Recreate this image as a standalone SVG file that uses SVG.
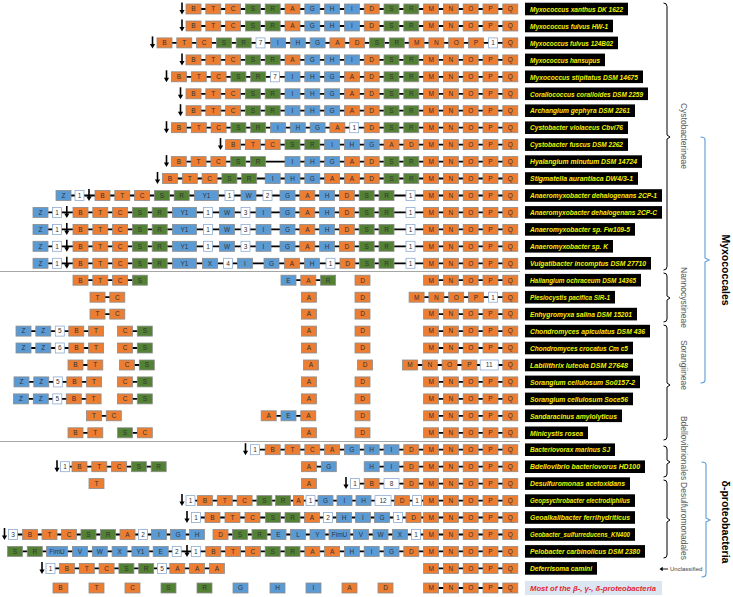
<svg xmlns="http://www.w3.org/2000/svg" xmlns:xlink="http://www.w3.org/1999/xlink" width="733" height="597" viewBox="0 0 733 597">
<style>
.o{fill:#ED7D31;stroke:#8c8c8c;stroke-width:.8}
.g{fill:#548235;stroke:#8c8c8c;stroke-width:.8}
.b{fill:#5B9BD5;stroke:#8c8c8c;stroke-width:.8}
.w{fill:#fff;stroke:#8eaad0;stroke-width:.8}
.t{font-family:"Liberation Sans",Arial,sans-serif;font-size:6.5px;text-anchor:middle;fill:#333}
.lb{fill:#000}
.lt{font-family:"Liberation Sans",Arial,sans-serif;font-size:7.6px;font-style:italic;font-weight:bold;fill:#f2f200}
.cn{fill:none;stroke:#000;stroke-width:1.8}
.br{fill:none;stroke:#000;stroke-width:1}
.bb{fill:none;stroke:#5b9bd5;stroke-width:1.1}
.cl{font-family:"Liberation Sans",Arial,sans-serif;font-size:8.5px;fill:#595959;text-anchor:middle}
.big{font-family:"Liberation Sans",Arial,sans-serif;font-size:10.5px;font-weight:bold;fill:#000;text-anchor:middle}
.sep{stroke:#a6a6a6;stroke-width:1.2}
</style>
<defs>
<g id="gB"><rect class="o" y="-5" width="15" height="10"/><text class="t" x="7.5" y="2.3">B</text></g>
<g id="gT"><rect class="o" y="-5" width="15" height="10"/><text class="t" x="7.5" y="2.3">T</text></g>
<g id="gC"><rect class="o" y="-5" width="15" height="10"/><text class="t" x="7.5" y="2.3">C</text></g>
<g id="gA"><rect class="o" y="-5" width="15" height="10"/><text class="t" x="7.5" y="2.3">A</text></g>
<g id="gAn"><rect class="o" y="-5" width="10" height="10"/><text class="t" x="5" y="2.3">A</text></g>
<g id="gD"><rect class="o" y="-5" width="15" height="10"/><text class="t" x="7.5" y="2.3">D</text></g>
<g id="gM"><rect class="o" y="-5" width="15" height="10"/><text class="t" x="7.5" y="2.3">M</text></g>
<g id="gN"><rect class="o" y="-5" width="15" height="10"/><text class="t" x="7.5" y="2.3">N</text></g>
<g id="gO"><rect class="o" y="-5" width="15" height="10"/><text class="t" x="7.5" y="2.3">O</text></g>
<g id="gP"><rect class="o" y="-5" width="15" height="10"/><text class="t" x="7.5" y="2.3">P</text></g>
<g id="gQ"><rect class="o" y="-5" width="15" height="10"/><text class="t" x="7.5" y="2.3">Q</text></g>
<g id="gS"><rect class="g" y="-5" width="15" height="10"/><text class="t" x="7.5" y="2.3">S</text></g>
<g id="gR"><rect class="g" y="-5" width="15" height="10"/><text class="t" x="7.5" y="2.3">R</text></g>
<g id="gG"><rect class="b" y="-5" width="15" height="10"/><text class="t" x="7.5" y="2.3">G</text></g>
<g id="gH"><rect class="b" y="-5" width="15" height="10"/><text class="t" x="7.5" y="2.3">H</text></g>
<g id="gI"><rect class="b" y="-5" width="15" height="10"/><text class="t" x="7.5" y="2.3">I</text></g>
<g id="gE"><rect class="b" y="-5" width="15" height="10"/><text class="t" x="7.5" y="2.3">E</text></g>
<g id="gZ"><rect class="b" y="-5" width="15" height="10"/><text class="t" x="7.5" y="2.3">Z</text></g>
<g id="gW"><rect class="b" y="-5" width="15" height="10"/><text class="t" x="7.5" y="2.3">W</text></g>
<g id="gX"><rect class="b" y="-5" width="15" height="10"/><text class="t" x="7.5" y="2.3">X</text></g>
<g id="gV"><rect class="b" y="-5" width="15" height="10"/><text class="t" x="7.5" y="2.3">V</text></g>
<g id="gL"><rect class="b" y="-5" width="15" height="10"/><text class="t" x="7.5" y="2.3">L</text></g>
<g id="gY"><rect class="b" y="-5" width="15" height="10"/><text class="t" x="7.5" y="2.3">Y</text></g>
<g id="gY1"><rect class="b" y="-5" width="24" height="10"/><text class="t" x="12" y="2.3">Y1</text></g>
<g id="gY1s"><rect class="b" y="-5" width="17" height="10"/><text class="t" x="8.5" y="2.3">Y1</text></g>
<g id="gFimU"><rect class="b" y="-5" width="21" height="10"/><text class="t" x="10.5" y="2.3">FimU</text></g>
<g id="n1"><rect class="w" y="-5" width="9" height="10"/><text class="t" x="4.5" y="2.3">1</text></g>
<g id="n2"><rect class="w" y="-5" width="9" height="10"/><text class="t" x="4.5" y="2.3">2</text></g>
<g id="n3"><rect class="w" y="-5" width="9" height="10"/><text class="t" x="4.5" y="2.3">3</text></g>
<g id="n4"><rect class="w" y="-5" width="9" height="10"/><text class="t" x="4.5" y="2.3">4</text></g>
<g id="n5"><rect class="w" y="-5" width="9" height="10"/><text class="t" x="4.5" y="2.3">5</text></g>
<g id="n6"><rect class="w" y="-5" width="9" height="10"/><text class="t" x="4.5" y="2.3">6</text></g>
<g id="n7"><rect class="w" y="-5" width="9" height="10"/><text class="t" x="4.5" y="2.3">7</text></g>
<g id="n8"><rect class="w" y="-5" width="15" height="10"/><text class="t" x="7.5" y="2.3">8</text></g>
<g id="n11"><rect class="w" y="-5" width="18" height="10"/><text class="t" x="9" y="2.3">11</text></g>
<g id="n12"><rect class="w" y="-5" width="16" height="10"/><text class="t" x="8" y="2.3">12</text></g>
<g id="dn"><path d="M0,-6.5V2" stroke="#000" stroke-width="1.6"/><path d="M-2.6,1L0,5.5L2.6,1Z" fill="#000"/></g>
<g id="mnopq"><use href="#gM" x="423.6"/><use href="#gN" x="443.4"/><use href="#gO" x="463.2"/><use href="#gP" x="483"/><use href="#gQ" x="502.8"/></g>
</defs>
<rect width="733" height="597" fill="#fff"/>
<g id="separators">
<line class="sep" x1="0" y1="271.5" x2="520" y2="271.5"/>
<line class="sep" x1="0" y1="441.5" x2="520" y2="441.5"/>
</g>
<g id="connectors">
<path class="cn" d="M193.5,9H510.3M193.5,26H510.3M164.5,42.9H510.3M193.5,59.9H510.3M179,76.8H510.3M193.5,93.8H510.3M193.5,110.7H510.3M179,127.7H510.3M233.1,144.6H510.3M178.8,161.6H510.3M170,178.5H510.3M63.5,195.5H510.3M40.5,212.4H510.3M40.5,229.4H510.3M40.5,246.3H510.3M40.5,263.3H510.3"/>
<path class="cn" d="M80.5,280.2H139.9M288.5,280.2H328.1M431.1,280.2H510.3M97.5,297.2H117.3M416.6,297.2H510.3M97.5,314.1H117.3M431.1,314.1H510.3M23.5,331.1H96.1M125,331.1H144.8M431.1,331.1H510.3M23.5,348H96.1M125,348H144.8M431.1,348H510.3M75.5,365H95.3M127,365H146.8M410,365H510.3M21.5,381.9H94.1M125,381.9H144.8M431.1,381.9H510.3M21,398.9H93.6M125,398.9H144.8M431.1,398.9H510.3M94,415.8H113.8M268.7,415.8H308.3M431.1,415.8H510.3M75.5,432.8H95.3M125,432.8H144.8M431.1,432.8H510.3"/>
<path class="cn" d="M255,449.7H510.3M65,466.7H158.7M309,466.7H328.8M371.7,466.7H510.3M355,483.6H510.3M190.5,500.6H510.3M196,517.5H510.3M13,534.5H197M220.5,534.5H510.3M15,551.4H510.3M50.5,568.4H216.9M431.1,568.4H510.3M431.1,588H510.3"/>
</g>
<g id="r1" transform="translate(0,9)"><use href="#dn" x="182"/><use href="#gB" x="186"/><use href="#gT" x="205.8"/><use href="#gC" x="225.6"/><use href="#gS" x="245.4"/><use href="#gR" x="265.2"/><use href="#gA" x="285"/><use href="#gG" x="304.8"/><use href="#gH" x="324.6"/><use href="#gI" x="344.4"/><use href="#gD" x="364.2"/><use href="#gS" x="384"/><use href="#gR" x="403.8"/><use href="#mnopq"/><rect class="lb" x="525" y="-6.3" width="103" height="12.6"/><text class="lt" x="530" y="2.7" textLength="93" lengthAdjust="spacingAndGlyphs">Myxococcus xanthus DK 1622</text></g>
<g id="r2" transform="translate(0,26)"><use href="#dn" x="182"/><use href="#gB" x="186"/><use href="#gT" x="205.8"/><use href="#gC" x="225.6"/><use href="#gS" x="245.4"/><use href="#gR" x="265.2"/><use href="#gA" x="285"/><use href="#gG" x="304.8"/><use href="#gH" x="324.6"/><use href="#gI" x="344.4"/><use href="#gD" x="364.2"/><use href="#gS" x="384"/><use href="#gR" x="403.8"/><use href="#mnopq"/><rect class="lb" x="525" y="-6.3" width="88" height="12.6"/><text class="lt" x="530" y="2.7" textLength="78" lengthAdjust="spacingAndGlyphs">Myxococcus fulvus HW-1</text></g>
<g id="r3" transform="translate(0,42.9)"><use href="#dn" x="152.5"/><use href="#gB" x="157"/><use href="#gT" x="176.8"/><use href="#gC" x="196.6"/><use href="#gS" x="216.4"/><use href="#gR" x="236.2"/><use href="#n7" x="256"/><use href="#gI" x="270.5"/><use href="#gH" x="290.3"/><use href="#gG" x="310.1"/><use href="#gA" x="329.9"/><use href="#gD" x="349.7"/><use href="#gS" x="369.5"/><use href="#gR" x="389.3"/><use href="#gM" x="409.1"/><use href="#gN" x="428.9"/><use href="#gO" x="448.7"/><use href="#gP" x="468.5"/><use href="#n1" x="488.6"/><use href="#gQ" x="502.8"/><rect class="lb" x="525" y="-6.3" width="93" height="12.6"/><text class="lt" x="530" y="2.7" textLength="83" lengthAdjust="spacingAndGlyphs">Myxococcus fulvus 124B02</text></g>
<g id="r4" transform="translate(0,59.9)"><use href="#dn" x="182"/><use href="#gB" x="186"/><use href="#gT" x="205.8"/><use href="#gC" x="225.6"/><use href="#gS" x="245.4"/><use href="#gR" x="265.2"/><use href="#gA" x="285"/><use href="#gG" x="304.8"/><use href="#gH" x="324.6"/><use href="#gI" x="344.4"/><use href="#gD" x="364.2"/><use href="#gS" x="384"/><use href="#gR" x="403.8"/><use href="#mnopq"/><rect class="lb" x="525" y="-6.3" width="80" height="12.6"/><text class="lt" x="530" y="2.7" textLength="70" lengthAdjust="spacingAndGlyphs">Myxococcus hansupus</text></g>
<g id="r5" transform="translate(0,76.8)"><use href="#dn" x="166.5"/><use href="#gB" x="171.5"/><use href="#gT" x="191.3"/><use href="#gC" x="211.1"/><use href="#gS" x="230.9"/><use href="#gR" x="250.7"/><use href="#n7" x="270.5"/><use href="#gI" x="285"/><use href="#gH" x="304.8"/><use href="#gG" x="324.6"/><use href="#gA" x="344.4"/><use href="#gD" x="364.2"/><use href="#gS" x="384"/><use href="#gR" x="403.8"/><use href="#mnopq"/><rect class="lb" x="525" y="-6.3" width="118" height="12.6"/><text class="lt" x="530" y="2.7" textLength="108" lengthAdjust="spacingAndGlyphs">Myxococcus stipitatus DSM 14675</text></g>
<g id="r6" transform="translate(0,93.8)"><use href="#dn" x="180.5"/><use href="#gB" x="186"/><use href="#gT" x="205.8"/><use href="#gC" x="225.6"/><use href="#gS" x="245.4"/><use href="#gR" x="265.2"/><use href="#gI" x="285"/><use href="#gH" x="304.8"/><use href="#gG" x="324.6"/><use href="#gA" x="344.4"/><use href="#gD" x="364.2"/><use href="#gS" x="384"/><use href="#gR" x="403.8"/><use href="#mnopq"/><rect class="lb" x="525" y="-6.3" width="123" height="12.6"/><text class="lt" x="530" y="2.7" textLength="113" lengthAdjust="spacingAndGlyphs">Corallococcus coralloides DSM 2259</text></g>
<g id="r7" transform="translate(0,110.7)"><use href="#dn" x="180.5"/><use href="#gB" x="186"/><use href="#gT" x="205.8"/><use href="#gC" x="225.6"/><use href="#gS" x="245.4"/><use href="#gR" x="265.2"/><use href="#gI" x="285"/><use href="#gH" x="304.8"/><use href="#gG" x="324.6"/><use href="#gA" x="344.4"/><use href="#gD" x="364.2"/><use href="#gS" x="384"/><use href="#gR" x="403.8"/><use href="#mnopq"/><rect class="lb" x="525" y="-6.3" width="110" height="12.6"/><text class="lt" x="530" y="2.7" textLength="100" lengthAdjust="spacingAndGlyphs">Archangium gephyra DSM 2261</text></g>
<g id="r8" transform="translate(0,127.7)"><use href="#dn" x="166.5"/><use href="#gB" x="171.5"/><use href="#gT" x="191.3"/><use href="#gC" x="211.1"/><use href="#gS" x="230.9"/><use href="#gR" x="250.7"/><use href="#gI" x="270.5"/><use href="#gH" x="290.3"/><use href="#gG" x="310.1"/><use href="#gA" x="329.9"/><use href="#n1" x="349.7"/><use href="#gD" x="364.2"/><use href="#gS" x="384"/><use href="#gR" x="403.8"/><use href="#mnopq"/><rect class="lb" x="525" y="-6.3" width="103" height="12.6"/><text class="lt" x="530" y="2.7" textLength="93" lengthAdjust="spacingAndGlyphs">Cystobacter violaceus Cbvi76</text></g>
<g id="r9" transform="translate(0,144.6)"><use href="#dn" x="220.5"/><use href="#gB" x="225.6"/><use href="#gT" x="245.4"/><use href="#gC" x="265.2"/><use href="#gS" x="285"/><use href="#gR" x="304.8"/><use href="#gI" x="324.6"/><use href="#gH" x="344.4"/><use href="#gG" x="364.2"/><use href="#gA" x="384"/><use href="#gD" x="403.8"/><use href="#mnopq"/><rect class="lb" x="525" y="-6.3" width="103" height="12.6"/><text class="lt" x="530" y="2.7" textLength="93" lengthAdjust="spacingAndGlyphs">Cystobacter fuscus DSM 2262</text></g>
<g id="r10" transform="translate(0,161.6)"><use href="#dn" x="166.5"/><use href="#gB" x="171.3"/><use href="#gT" x="191.1"/><use href="#gC" x="210.9"/><use href="#gS" x="230.7"/><use href="#gR" x="250.5"/><use href="#gI" x="285"/><use href="#gH" x="304.8"/><use href="#gG" x="324.6"/><use href="#gA" x="344.4"/><use href="#gD" x="364.2"/><use href="#gS" x="384"/><use href="#gR" x="403.8"/><use href="#mnopq"/><rect class="lb" x="525" y="-6.3" width="117" height="12.6"/><text class="lt" x="530" y="2.7" textLength="107" lengthAdjust="spacingAndGlyphs">Hyalangium minutum DSM 14724</text></g>
<g id="r11" transform="translate(0,178.5)"><use href="#dn" x="157.5"/><use href="#gB" x="162.5"/><use href="#gT" x="182.3"/><use href="#gC" x="202.1"/><use href="#gS" x="221.9"/><use href="#gR" x="241.7"/><use href="#gI" x="265.2"/><use href="#gH" x="285"/><use href="#gG" x="304.8"/><use href="#gA" x="324.6"/><use href="#gA" x="344.4"/><use href="#gD" x="364.2"/><use href="#gS" x="384"/><use href="#gR" x="403.8"/><use href="#mnopq"/><rect class="lb" x="525" y="-6.3" width="113" height="12.6"/><text class="lt" x="530" y="2.7" textLength="103" lengthAdjust="spacingAndGlyphs">Stigmatella aurantiaca DW4/3-1</text></g>
<g id="r12" transform="translate(0,195.5)"><use href="#gZ" x="56"/><use href="#n1" x="75"/><use href="#dn" x="89"/><use href="#gB" x="95"/><use href="#gT" x="114.8"/><use href="#gC" x="134.6"/><use href="#gS" x="154.4"/><use href="#gR" x="174.2"/><use href="#gY1" x="194.5"/><use href="#n1" x="225"/><use href="#gW" x="241"/><use href="#n2" x="263"/><use href="#gG" x="280"/><use href="#gA" x="299.8"/><use href="#gH" x="319.6"/><use href="#gD" x="339.4"/><use href="#gS" x="359.2"/><use href="#gR" x="379"/><use href="#n1" x="406"/><use href="#mnopq"/><rect class="lb" x="525" y="-6.3" width="137" height="12.6"/><text class="lt" x="530" y="2.7" textLength="127" lengthAdjust="spacingAndGlyphs">Anaeromyxobacter dehalogenans 2CP-1</text></g>
<g id="r13" transform="translate(0,212.4)"><use href="#gZ" x="33"/><use href="#n1" x="52.5"/><use href="#dn" x="66.8"/><use href="#gB" x="73"/><use href="#gT" x="92.8"/><use href="#gC" x="112.6"/><use href="#gS" x="132.4"/><use href="#gR" x="152.2"/><use href="#gY1" x="172.5"/><use href="#n1" x="203.5"/><use href="#gW" x="219.5"/><use href="#n3" x="241"/><use href="#gI" x="256"/><use href="#gG" x="280"/><use href="#gA" x="299.8"/><use href="#gH" x="319.6"/><use href="#gD" x="339.4"/><use href="#gS" x="359.2"/><use href="#gR" x="379"/><use href="#n1" x="406"/><use href="#mnopq"/><rect class="lb" x="525" y="-6.3" width="137" height="12.6"/><text class="lt" x="530" y="2.7" textLength="127" lengthAdjust="spacingAndGlyphs">Anaeromyxobacter dehalogenans 2CP-C</text></g>
<g id="r14" transform="translate(0,229.4)"><use href="#gZ" x="33"/><use href="#n1" x="52.5"/><use href="#dn" x="66.8"/><use href="#gB" x="73"/><use href="#gT" x="92.8"/><use href="#gC" x="112.6"/><use href="#gS" x="132.4"/><use href="#gR" x="152.2"/><use href="#gY1" x="172.5"/><use href="#n1" x="203.5"/><use href="#gW" x="219.5"/><use href="#n3" x="241"/><use href="#gI" x="256"/><use href="#gG" x="280"/><use href="#gA" x="299.8"/><use href="#gH" x="319.6"/><use href="#gD" x="339.4"/><use href="#gS" x="359.2"/><use href="#gR" x="379"/><use href="#n1" x="406"/><use href="#mnopq"/><rect class="lb" x="525" y="-6.3" width="110" height="12.6"/><text class="lt" x="530" y="2.7" textLength="100" lengthAdjust="spacingAndGlyphs">Anaeromyxobacter sp. Fw109-5</text></g>
<g id="r15" transform="translate(0,246.3)"><use href="#gZ" x="33"/><use href="#n1" x="52.5"/><use href="#dn" x="66.8"/><use href="#gB" x="73"/><use href="#gT" x="92.8"/><use href="#gC" x="112.6"/><use href="#gS" x="132.4"/><use href="#gR" x="152.2"/><use href="#gY1" x="172.5"/><use href="#n1" x="203.5"/><use href="#gW" x="219.5"/><use href="#n3" x="241"/><use href="#gI" x="256"/><use href="#gG" x="280"/><use href="#gA" x="299.8"/><use href="#gH" x="319.6"/><use href="#gD" x="339.4"/><use href="#gS" x="359.2"/><use href="#gR" x="379"/><use href="#n1" x="406"/><use href="#mnopq"/><rect class="lb" x="525" y="-6.3" width="88" height="12.6"/><text class="lt" x="530" y="2.7" textLength="78" lengthAdjust="spacingAndGlyphs">Anaeromyxobacter sp. K</text></g>
<g id="r16" transform="translate(0,263.3)"><use href="#gZ" x="33"/><use href="#n1" x="52.5"/><use href="#dn" x="66.8"/><use href="#gB" x="73"/><use href="#gT" x="92.8"/><use href="#gC" x="112.6"/><use href="#gS" x="132.4"/><use href="#gR" x="152.2"/><use href="#gY1" x="172.5"/><use href="#gX" x="202.5"/><use href="#n4" x="223.5"/><use href="#gI" x="237.5"/><use href="#gG" x="264"/><use href="#gA" x="284.5"/><use href="#gH" x="304.5"/><use href="#n1" x="326"/><use href="#gD" x="340"/><use href="#gS" x="359.5"/><use href="#gR" x="379"/><use href="#n1" x="406"/><use href="#mnopq"/><rect class="lb" x="525" y="-6.3" width="126" height="12.6"/><text class="lt" x="530" y="2.7" textLength="116" lengthAdjust="spacingAndGlyphs">Vulgatibacter incomptus DSM 27710</text></g>
<g id="r17" transform="translate(0,280.2)"><use href="#gB" x="73"/><use href="#gT" x="92.8"/><use href="#gC" x="112.6"/><use href="#gS" x="132.4"/><use href="#gE" x="281"/><use href="#gA" x="300.8"/><use href="#gR" x="320.6"/><use href="#gD" x="355"/><use href="#mnopq"/><rect class="lb" x="525" y="-6.3" width="116" height="12.6"/><text class="lt" x="530" y="2.7" textLength="106" lengthAdjust="spacingAndGlyphs">Haliangium ochraceum DSM 14365</text></g>
<g id="r18" transform="translate(0,297.2)"><use href="#gT" x="90"/><use href="#gC" x="109.8"/><use href="#gA" x="301.5"/><use href="#gD" x="355"/><use href="#gM" x="409.1"/><use href="#gN" x="428.9"/><use href="#gO" x="448.7"/><use href="#gP" x="468.5"/><use href="#n1" x="488.6"/><use href="#gQ" x="502.8"/><rect class="lb" x="525" y="-6.3" width="90" height="12.6"/><text class="lt" x="530" y="2.7" textLength="80" lengthAdjust="spacingAndGlyphs">Plesiocystis pacifica SIR-1</text></g>
<g id="r19" transform="translate(0,314.1)"><use href="#gT" x="90"/><use href="#gC" x="109.8"/><use href="#gA" x="301.5"/><use href="#gD" x="355"/><use href="#mnopq"/><rect class="lb" x="525" y="-6.3" width="112" height="12.6"/><text class="lt" x="530" y="2.7" textLength="102" lengthAdjust="spacingAndGlyphs">Enhygromyxa salina DSM 15201</text></g>
<g id="r20" transform="translate(0,331.1)"><use href="#gZ" x="16"/><use href="#gZ" x="35.8"/><use href="#n5" x="55.3"/><use href="#gB" x="68.8"/><use href="#gT" x="88.6"/><use href="#gC" x="117.5"/><use href="#gS" x="137.3"/><use href="#gA" x="301.5"/><use href="#gD" x="355"/><use href="#mnopq"/><rect class="lb" x="525" y="-6.3" width="125" height="12.6"/><text class="lt" x="530" y="2.7" textLength="115" lengthAdjust="spacingAndGlyphs">Chondromyces apiculatus DSM 436</text></g>
<g id="r21" transform="translate(0,348)"><use href="#gZ" x="16"/><use href="#gZ" x="35.8"/><use href="#n6" x="55.3"/><use href="#gB" x="68.8"/><use href="#gT" x="88.6"/><use href="#gC" x="117.5"/><use href="#gS" x="137.3"/><use href="#gA" x="301.5"/><use href="#gD" x="355"/><use href="#mnopq"/><rect class="lb" x="525" y="-6.3" width="108" height="12.6"/><text class="lt" x="530" y="2.7" textLength="98" lengthAdjust="spacingAndGlyphs">Chondromyces crocatus Cm c5</text></g>
<g id="r22" transform="translate(0,365)"><use href="#gB" x="68"/><use href="#gT" x="87.8"/><use href="#gC" x="119.5"/><use href="#gS" x="139.3"/><use href="#gA" x="303.5"/><use href="#gD" x="357.5"/><use href="#gM" x="402.5"/><use href="#gN" x="422.3"/><use href="#gO" x="442.1"/><use href="#gP" x="461.9"/><use href="#n11" x="480.2"/><use href="#gQ" x="502.8"/><rect class="lb" x="525" y="-6.3" width="108" height="12.6"/><text class="lt" x="530" y="2.7" textLength="98" lengthAdjust="spacingAndGlyphs">Labilithrix luteola DSM 27648</text></g>
<g id="r23" transform="translate(0,381.9)"><use href="#gZ" x="14"/><use href="#gZ" x="33.8"/><use href="#n5" x="53.3"/><use href="#gB" x="66.8"/><use href="#gT" x="86.6"/><use href="#gC" x="117.5"/><use href="#gS" x="137.3"/><use href="#gA" x="301.5"/><use href="#gD" x="355"/><use href="#mnopq"/><rect class="lb" x="525" y="-6.3" width="115" height="12.6"/><text class="lt" x="530" y="2.7" textLength="105" lengthAdjust="spacingAndGlyphs">Sorangium cellulosum So0157-2</text></g>
<g id="r24" transform="translate(0,398.9)"><use href="#gZ" x="13.5"/><use href="#gZ" x="33.3"/><use href="#n5" x="52.8"/><use href="#gB" x="66.3"/><use href="#gT" x="86.1"/><use href="#gC" x="117.5"/><use href="#gS" x="137.3"/><use href="#gA" x="301.5"/><use href="#gD" x="355"/><use href="#mnopq"/><rect class="lb" x="525" y="-6.3" width="108" height="12.6"/><text class="lt" x="530" y="2.7" textLength="98" lengthAdjust="spacingAndGlyphs">Sorangium cellulosum Soce56</text></g>
<g id="r25" transform="translate(0,415.8)"><use href="#gT" x="86.5"/><use href="#gC" x="106.3"/><use href="#gA" x="261.2"/><use href="#gE" x="281"/><use href="#gA" x="300.8"/><use href="#gD" x="355"/><use href="#mnopq"/><rect class="lb" x="525" y="-6.3" width="97" height="12.6"/><text class="lt" x="530" y="2.7" textLength="87" lengthAdjust="spacingAndGlyphs">Sandaracinus amylolyticus</text></g>
<g id="r26" transform="translate(0,432.8)"><use href="#gB" x="68"/><use href="#gT" x="87.8"/><use href="#gS" x="117.5"/><use href="#gC" x="137.3"/><use href="#gA" x="301.5"/><use href="#gD" x="355"/><use href="#mnopq"/><rect class="lb" x="525" y="-6.3" width="63" height="12.6"/><text class="lt" x="530" y="2.7" textLength="53" lengthAdjust="spacingAndGlyphs">Minicystis rosea</text></g>
<g id="r27" transform="translate(0,449.7)"><use href="#dn" x="245.5"/><use href="#n1" x="250.5"/><use href="#gB" x="265.2"/><use href="#gT" x="285"/><use href="#gC" x="304.8"/><use href="#gA" x="324.6"/><use href="#gG" x="344.4"/><use href="#gH" x="364.2"/><use href="#gI" x="384"/><use href="#gD" x="403.8"/><use href="#mnopq"/><rect class="lb" x="525" y="-6.3" width="90" height="12.6"/><text class="lt" x="530" y="2.7" textLength="80" lengthAdjust="spacingAndGlyphs">Bacteriovorax marinus SJ</text></g>
<g id="r28" transform="translate(0,466.7)"><use href="#dn" x="57"/><use href="#n1" x="60.5"/><use href="#gB" x="72"/><use href="#gT" x="91.8"/><use href="#gC" x="111.6"/><use href="#gS" x="131.4"/><use href="#gR" x="151.2"/><use href="#gA" x="301.5"/><use href="#gG" x="321.3"/><use href="#gH" x="364.2"/><use href="#gI" x="384"/><use href="#gD" x="403.8"/><use href="#mnopq"/><rect class="lb" x="525" y="-6.3" width="120" height="12.6"/><text class="lt" x="530" y="2.7" textLength="110" lengthAdjust="spacingAndGlyphs">Bdellovibrio bacteriovorus HD100</text></g>
<g id="r29" transform="translate(0,483.6)"><use href="#gT" x="89"/><use href="#gA" x="301.5"/><use href="#dn" x="346"/><use href="#n1" x="350.5"/><use href="#gB" x="364.2"/><use href="#n8" x="384"/><use href="#gD" x="403.8"/><use href="#mnopq"/><rect class="lb" x="525" y="-6.3" width="105" height="12.6"/><text class="lt" x="530" y="2.7" textLength="95" lengthAdjust="spacingAndGlyphs">Desulfuromonas acetoxidans</text></g>
<g id="r30" transform="translate(0,500.6)"><use href="#dn" x="182"/><use href="#n1" x="186"/><use href="#gB" x="197.5"/><use href="#gT" x="217.3"/><use href="#gC" x="237.1"/><use href="#gS" x="256.9"/><use href="#gR" x="275.5"/><use href="#gAn" x="293.5"/><use href="#n1" x="306"/><use href="#gG" x="318"/><use href="#gI" x="337"/><use href="#gH" x="356"/><use href="#n12" x="375"/><use href="#gD" x="394.5"/><use href="#n1" x="412.5"/><use href="#mnopq"/><rect class="lb" x="525" y="-6.3" width="110" height="12.6"/><text class="lt" x="530" y="2.7" textLength="100" lengthAdjust="spacingAndGlyphs">Geopsychrobacter electrodiphilus</text></g>
<g id="r31" transform="translate(0,517.5)"><use href="#dn" x="187"/><use href="#n1" x="191.5"/><use href="#gB" x="205"/><use href="#gT" x="225"/><use href="#gC" x="245"/><use href="#gS" x="265.5"/><use href="#gR" x="285"/><use href="#gA" x="304.5"/><use href="#n2" x="323.5"/><use href="#gH" x="336.5"/><use href="#gI" x="355.5"/><use href="#gG" x="374.5"/><use href="#n1" x="393.5"/><use href="#gD" x="406"/><use href="#mnopq"/><rect class="lb" x="525" y="-6.3" width="110" height="12.6"/><text class="lt" x="530" y="2.7" textLength="100" lengthAdjust="spacingAndGlyphs">Geoalkalibacter ferrihydriticus</text></g>
<g id="r32" transform="translate(0,534.5)"><use href="#dn" x="4.5"/><use href="#n3" x="8.5"/><use href="#gB" x="22.5"/><use href="#gT" x="42"/><use href="#gC" x="61.5"/><use href="#gS" x="81"/><use href="#gR" x="100.5"/><use href="#gA" x="120"/><use href="#n2" x="138.5"/><use href="#gI" x="151.5"/><use href="#gG" x="170.5"/><use href="#gH" x="189.5"/><use href="#gD" x="213"/><use href="#gS" x="232.5"/><use href="#gR" x="252"/><use href="#gE" x="271"/><use href="#gL" x="290.5"/><use href="#gY" x="310"/><use href="#gFimU" x="329"/><use href="#gV" x="353.5"/><use href="#gW" x="373"/><use href="#gX" x="392.5"/><use href="#n1" x="411.5"/><use href="#mnopq"/><rect class="lb" x="525" y="-6.3" width="110" height="12.6"/><text class="lt" x="530" y="2.7" textLength="100" lengthAdjust="spacingAndGlyphs">Geobacter_sulfurreducens_KN400</text></g>
<g id="r33" transform="translate(0,551.4)"><use href="#gS" x="7.5"/><use href="#gR" x="27.3"/><use href="#gFimU" x="46.5"/><use href="#gV" x="72.5"/><use href="#gW" x="92.3"/><use href="#gX" x="112.1"/><use href="#gY1s" x="131.9"/><use href="#gE" x="153.2"/><use href="#n2" x="172.2"/><use href="#dn" x="187"/><use href="#n1" x="191.3"/><use href="#gB" x="205.8"/><use href="#gT" x="225.6"/><use href="#gC" x="245.4"/><use href="#gS" x="265.2"/><use href="#gR" x="285"/><use href="#gA" x="304.8"/><use href="#gA" x="324.6"/><use href="#gH" x="344.4"/><use href="#gI" x="364.2"/><use href="#gG" x="384"/><use href="#gD" x="403.8"/><use href="#mnopq"/><rect class="lb" x="525" y="-6.3" width="120" height="12.6"/><text class="lt" x="530" y="2.7" textLength="110" lengthAdjust="spacingAndGlyphs">Pelobacter carbinolicus DSM 2380</text></g>
<g id="r34" transform="translate(0,568.4)"><use href="#dn" x="42"/><use href="#n1" x="46"/><use href="#gB" x="59.5"/><use href="#gT" x="79.3"/><use href="#gC" x="99.1"/><use href="#gS" x="118.9"/><use href="#gR" x="138.7"/><use href="#n5" x="157.5"/><use href="#gA" x="169.8"/><use href="#gA" x="189.6"/><use href="#gA" x="209.4"/><use href="#mnopq"/><rect class="lb" x="525" y="-6.3" width="72" height="12.6"/><text class="lt" x="530" y="2.7" textLength="62" lengthAdjust="spacingAndGlyphs">Deferrisoma camini</text></g>
<g id="r35" transform="translate(0,588)"><use href="#gB" x="53"/><use href="#gT" x="89"/><use href="#gC" x="125"/><use href="#gS" x="161"/><use href="#gR" x="197"/><use href="#gG" x="233"/><use href="#gH" x="270"/><use href="#gI" x="306"/><use href="#gA" x="342"/><use href="#gD" x="378"/><use href="#mnopq"/><rect x="525" y="-7" width="137" height="14" fill="#dce6f2"/><text class="lt" x="530" y="2.8" textLength="126" lengthAdjust="spacingAndGlyphs" style="fill:#e3262e">Most of the β-, γ-, δ-proteobacteria</text></g>
<g id="taxa">
<path class="br" d="M663.5,3q3.5,0 3.5,3.5V135l3,2l-3,2V266.5q0,3.5 -3.5,3.5"/>
<path class="br" d="M663.5,273q3.5,0 3.5,3V296l3,2l-3,2V319q0,3 -3.5,3"/>
<path class="br" d="M663.5,325q3.5,0 3.5,3V383l3,2l-3,2V437q0,3 -3.5,3"/>
<path class="br" d="M663.5,446q3.5,0 3.5,3V460l3,2l-3,2V474q0,3 -3.5,3"/>
<path class="br" d="M663.5,480q3.5,0 3.5,3V518l3,2l-3,2V555q0,3 -3.5,3"/>
<path class="bb" d="M700.5,137q4.5,0 4.5,3V258l4,2l-4,2V380q0,3 -4.5,3"/>
<path class="bb" d="M701.5,462q4.5,0 4.5,3V518l4,2l-4,2V574q0,3 -4.5,3"/>
<text class="cl" transform="translate(684,136) rotate(90)" y="3">Cystobacterineae</text>
<text class="cl" transform="translate(684,297.5) rotate(90)" y="3">Nannocystineae</text>
<text class="cl" transform="translate(684,365) rotate(90)" y="3">Sorangiineae</text>
<text class="cl" transform="translate(684,448) rotate(90)" y="3">Bdellovibrionales</text>
<text class="cl" transform="translate(684,521) rotate(90)" y="3">Desulfuromonadales</text>
<text class="big" transform="translate(726,270) rotate(90)" y="3.8">Myxococcales</text>
<text class="big" transform="translate(726,522) rotate(90)" y="3.8">δ-proteobacteria</text>
<path d="M668,569H662" stroke="#000" stroke-width="0.9"/><path d="M659.5,569l3.2,-2.2v4.4z" fill="#000"/>
<text x="670" y="571" style="font-family:'Liberation Sans',Arial,sans-serif;font-size:6px;fill:#404040">Unclassified</text>
</g>
</svg>
